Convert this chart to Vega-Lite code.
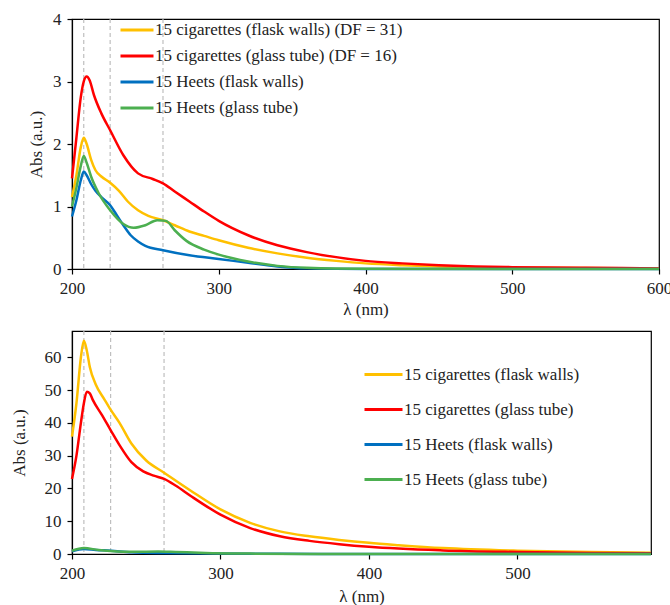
{
  "$schema": "https://vega.github.io/schema/vega-lite/v6.json",
  "padding": {"left": 9, "top": 9, "right": 5, "bottom": 0},
  "bounds": "flush",
  "spacing": 62,
  "datasets": {
    "top": [
      {"s": "15 cigarettes (flask walls) (DF = 31)", "x": 200, "y": 1.15},
      {"s": "15 cigarettes (flask walls) (DF = 31)", "x": 203, "y": 1.5},
      {"s": "15 cigarettes (flask walls) (DF = 31)", "x": 206, "y": 1.95},
      {"s": "15 cigarettes (flask walls) (DF = 31)", "x": 208, "y": 2.1},
      {"s": "15 cigarettes (flask walls) (DF = 31)", "x": 210, "y": 2.0},
      {"s": "15 cigarettes (flask walls) (DF = 31)", "x": 213, "y": 1.75},
      {"s": "15 cigarettes (flask walls) (DF = 31)", "x": 216, "y": 1.58},
      {"s": "15 cigarettes (flask walls) (DF = 31)", "x": 220, "y": 1.48},
      {"s": "15 cigarettes (flask walls) (DF = 31)", "x": 226, "y": 1.38},
      {"s": "15 cigarettes (flask walls) (DF = 31)", "x": 232, "y": 1.25},
      {"s": "15 cigarettes (flask walls) (DF = 31)", "x": 238, "y": 1.08},
      {"s": "15 cigarettes (flask walls) (DF = 31)", "x": 245, "y": 0.94},
      {"s": "15 cigarettes (flask walls) (DF = 31)", "x": 252, "y": 0.85},
      {"s": "15 cigarettes (flask walls) (DF = 31)", "x": 262, "y": 0.78},
      {"s": "15 cigarettes (flask walls) (DF = 31)", "x": 270, "y": 0.7},
      {"s": "15 cigarettes (flask walls) (DF = 31)", "x": 280, "y": 0.6},
      {"s": "15 cigarettes (flask walls) (DF = 31)", "x": 290, "y": 0.53},
      {"s": "15 cigarettes (flask walls) (DF = 31)", "x": 300, "y": 0.46},
      {"s": "15 cigarettes (flask walls) (DF = 31)", "x": 320, "y": 0.34},
      {"s": "15 cigarettes (flask walls) (DF = 31)", "x": 340, "y": 0.25},
      {"s": "15 cigarettes (flask walls) (DF = 31)", "x": 360, "y": 0.18},
      {"s": "15 cigarettes (flask walls) (DF = 31)", "x": 380, "y": 0.13},
      {"s": "15 cigarettes (flask walls) (DF = 31)", "x": 400, "y": 0.09},
      {"s": "15 cigarettes (flask walls) (DF = 31)", "x": 425, "y": 0.06},
      {"s": "15 cigarettes (flask walls) (DF = 31)", "x": 450, "y": 0.04},
      {"s": "15 cigarettes (flask walls) (DF = 31)", "x": 500, "y": 0.02},
      {"s": "15 cigarettes (flask walls) (DF = 31)", "x": 550, "y": 0.015},
      {"s": "15 cigarettes (flask walls) (DF = 31)", "x": 600, "y": 0.01},
      {"s": "15 cigarettes (glass tube) (DF = 16)", "x": 200, "y": 1.45},
      {"s": "15 cigarettes (glass tube) (DF = 16)", "x": 203, "y": 2.1},
      {"s": "15 cigarettes (glass tube) (DF = 16)", "x": 206, "y": 2.75},
      {"s": "15 cigarettes (glass tube) (DF = 16)", "x": 208, "y": 3.0},
      {"s": "15 cigarettes (glass tube) (DF = 16)", "x": 210, "y": 3.08},
      {"s": "15 cigarettes (glass tube) (DF = 16)", "x": 212, "y": 3.02},
      {"s": "15 cigarettes (glass tube) (DF = 16)", "x": 215, "y": 2.78},
      {"s": "15 cigarettes (glass tube) (DF = 16)", "x": 220, "y": 2.49},
      {"s": "15 cigarettes (glass tube) (DF = 16)", "x": 226, "y": 2.22},
      {"s": "15 cigarettes (glass tube) (DF = 16)", "x": 235, "y": 1.82},
      {"s": "15 cigarettes (glass tube) (DF = 16)", "x": 245, "y": 1.53},
      {"s": "15 cigarettes (glass tube) (DF = 16)", "x": 255, "y": 1.44},
      {"s": "15 cigarettes (glass tube) (DF = 16)", "x": 262, "y": 1.37},
      {"s": "15 cigarettes (glass tube) (DF = 16)", "x": 270, "y": 1.24},
      {"s": "15 cigarettes (glass tube) (DF = 16)", "x": 280, "y": 1.08},
      {"s": "15 cigarettes (glass tube) (DF = 16)", "x": 290, "y": 0.92},
      {"s": "15 cigarettes (glass tube) (DF = 16)", "x": 300, "y": 0.77},
      {"s": "15 cigarettes (glass tube) (DF = 16)", "x": 320, "y": 0.54},
      {"s": "15 cigarettes (glass tube) (DF = 16)", "x": 340, "y": 0.38},
      {"s": "15 cigarettes (glass tube) (DF = 16)", "x": 360, "y": 0.27},
      {"s": "15 cigarettes (glass tube) (DF = 16)", "x": 380, "y": 0.19},
      {"s": "15 cigarettes (glass tube) (DF = 16)", "x": 400, "y": 0.13},
      {"s": "15 cigarettes (glass tube) (DF = 16)", "x": 425, "y": 0.09},
      {"s": "15 cigarettes (glass tube) (DF = 16)", "x": 450, "y": 0.06},
      {"s": "15 cigarettes (glass tube) (DF = 16)", "x": 475, "y": 0.04},
      {"s": "15 cigarettes (glass tube) (DF = 16)", "x": 500, "y": 0.03},
      {"s": "15 cigarettes (glass tube) (DF = 16)", "x": 550, "y": 0.02},
      {"s": "15 cigarettes (glass tube) (DF = 16)", "x": 600, "y": 0.01},
      {"s": "15 Heets (flask walls)", "x": 200, "y": 0.84},
      {"s": "15 Heets (flask walls)", "x": 203, "y": 1.1},
      {"s": "15 Heets (flask walls)", "x": 206, "y": 1.42},
      {"s": "15 Heets (flask walls)", "x": 208, "y": 1.56},
      {"s": "15 Heets (flask walls)", "x": 210, "y": 1.5},
      {"s": "15 Heets (flask walls)", "x": 213, "y": 1.36},
      {"s": "15 Heets (flask walls)", "x": 216, "y": 1.25},
      {"s": "15 Heets (flask walls)", "x": 220, "y": 1.15},
      {"s": "15 Heets (flask walls)", "x": 226, "y": 1.02},
      {"s": "15 Heets (flask walls)", "x": 230, "y": 0.88},
      {"s": "15 Heets (flask walls)", "x": 235, "y": 0.7},
      {"s": "15 Heets (flask walls)", "x": 240, "y": 0.54},
      {"s": "15 Heets (flask walls)", "x": 245, "y": 0.44},
      {"s": "15 Heets (flask walls)", "x": 250, "y": 0.37},
      {"s": "15 Heets (flask walls)", "x": 262, "y": 0.3},
      {"s": "15 Heets (flask walls)", "x": 280, "y": 0.22},
      {"s": "15 Heets (flask walls)", "x": 300, "y": 0.16},
      {"s": "15 Heets (flask walls)", "x": 320, "y": 0.1},
      {"s": "15 Heets (flask walls)", "x": 340, "y": 0.04},
      {"s": "15 Heets (flask walls)", "x": 360, "y": 0.01},
      {"s": "15 Heets (flask walls)", "x": 400, "y": 0.0},
      {"s": "15 Heets (flask walls)", "x": 600, "y": 0.0},
      {"s": "15 Heets (glass tube)", "x": 200, "y": 1.0},
      {"s": "15 Heets (glass tube)", "x": 203, "y": 1.3},
      {"s": "15 Heets (glass tube)", "x": 206, "y": 1.65},
      {"s": "15 Heets (glass tube)", "x": 208, "y": 1.81},
      {"s": "15 Heets (glass tube)", "x": 210, "y": 1.7},
      {"s": "15 Heets (glass tube)", "x": 213, "y": 1.48},
      {"s": "15 Heets (glass tube)", "x": 218, "y": 1.22},
      {"s": "15 Heets (glass tube)", "x": 226, "y": 0.94},
      {"s": "15 Heets (glass tube)", "x": 235, "y": 0.72},
      {"s": "15 Heets (glass tube)", "x": 242, "y": 0.66},
      {"s": "15 Heets (glass tube)", "x": 250, "y": 0.7},
      {"s": "15 Heets (glass tube)", "x": 258, "y": 0.78},
      {"s": "15 Heets (glass tube)", "x": 264, "y": 0.77},
      {"s": "15 Heets (glass tube)", "x": 270, "y": 0.62},
      {"s": "15 Heets (glass tube)", "x": 278, "y": 0.45},
      {"s": "15 Heets (glass tube)", "x": 290, "y": 0.31},
      {"s": "15 Heets (glass tube)", "x": 300, "y": 0.23},
      {"s": "15 Heets (glass tube)", "x": 320, "y": 0.12},
      {"s": "15 Heets (glass tube)", "x": 340, "y": 0.05},
      {"s": "15 Heets (glass tube)", "x": 360, "y": 0.02},
      {"s": "15 Heets (glass tube)", "x": 400, "y": 0.005},
      {"s": "15 Heets (glass tube)", "x": 600, "y": 0.0}
    ],
    "bottom": [
      {"s": "15 cigarettes (flask walls)", "x": 200, "y": 35.8},
      {"s": "15 cigarettes (flask walls)", "x": 203, "y": 46},
      {"s": "15 cigarettes (flask walls)", "x": 206, "y": 60},
      {"s": "15 cigarettes (flask walls)", "x": 208, "y": 65},
      {"s": "15 cigarettes (flask walls)", "x": 210, "y": 62},
      {"s": "15 cigarettes (flask walls)", "x": 212, "y": 57},
      {"s": "15 cigarettes (flask walls)", "x": 216, "y": 51.7},
      {"s": "15 cigarettes (flask walls)", "x": 222, "y": 47},
      {"s": "15 cigarettes (flask walls)", "x": 226, "y": 44},
      {"s": "15 cigarettes (flask walls)", "x": 232, "y": 40},
      {"s": "15 cigarettes (flask walls)", "x": 240, "y": 33.7},
      {"s": "15 cigarettes (flask walls)", "x": 250, "y": 28.5},
      {"s": "15 cigarettes (flask walls)", "x": 262, "y": 24.8},
      {"s": "15 cigarettes (flask walls)", "x": 280, "y": 19.3},
      {"s": "15 cigarettes (flask walls)", "x": 300, "y": 13.6},
      {"s": "15 cigarettes (flask walls)", "x": 320, "y": 9.5},
      {"s": "15 cigarettes (flask walls)", "x": 340, "y": 6.9},
      {"s": "15 cigarettes (flask walls)", "x": 360, "y": 5.4},
      {"s": "15 cigarettes (flask walls)", "x": 380, "y": 4.3},
      {"s": "15 cigarettes (flask walls)", "x": 400, "y": 3.4},
      {"s": "15 cigarettes (flask walls)", "x": 420, "y": 2.7},
      {"s": "15 cigarettes (flask walls)", "x": 450, "y": 1.8},
      {"s": "15 cigarettes (flask walls)", "x": 500, "y": 1.0},
      {"s": "15 cigarettes (flask walls)", "x": 550, "y": 0.6},
      {"s": "15 cigarettes (flask walls)", "x": 590, "y": 0.4},
      {"s": "15 cigarettes (glass tube)", "x": 200, "y": 22.9},
      {"s": "15 cigarettes (glass tube)", "x": 203, "y": 30},
      {"s": "15 cigarettes (glass tube)", "x": 206, "y": 40},
      {"s": "15 cigarettes (glass tube)", "x": 208, "y": 46},
      {"s": "15 cigarettes (glass tube)", "x": 210, "y": 49.5},
      {"s": "15 cigarettes (glass tube)", "x": 212, "y": 49},
      {"s": "15 cigarettes (glass tube)", "x": 214, "y": 47},
      {"s": "15 cigarettes (glass tube)", "x": 220, "y": 42.5},
      {"s": "15 cigarettes (glass tube)", "x": 226, "y": 37.8},
      {"s": "15 cigarettes (glass tube)", "x": 232, "y": 33.2},
      {"s": "15 cigarettes (glass tube)", "x": 240, "y": 28},
      {"s": "15 cigarettes (glass tube)", "x": 248, "y": 25.2},
      {"s": "15 cigarettes (glass tube)", "x": 255, "y": 23.9},
      {"s": "15 cigarettes (glass tube)", "x": 262, "y": 22.9},
      {"s": "15 cigarettes (glass tube)", "x": 270, "y": 20.8},
      {"s": "15 cigarettes (glass tube)", "x": 280, "y": 17.7},
      {"s": "15 cigarettes (glass tube)", "x": 300, "y": 12},
      {"s": "15 cigarettes (glass tube)", "x": 320, "y": 7.9},
      {"s": "15 cigarettes (glass tube)", "x": 340, "y": 5.4},
      {"s": "15 cigarettes (glass tube)", "x": 360, "y": 4.0},
      {"s": "15 cigarettes (glass tube)", "x": 380, "y": 3.0},
      {"s": "15 cigarettes (glass tube)", "x": 400, "y": 2.2},
      {"s": "15 cigarettes (glass tube)", "x": 450, "y": 1.1},
      {"s": "15 cigarettes (glass tube)", "x": 500, "y": 0.6},
      {"s": "15 cigarettes (glass tube)", "x": 550, "y": 0.3},
      {"s": "15 cigarettes (glass tube)", "x": 590, "y": 0.2},
      {"s": "15 Heets (flask walls)", "x": 200, "y": 0.84},
      {"s": "15 Heets (flask walls)", "x": 208, "y": 1.56},
      {"s": "15 Heets (flask walls)", "x": 216, "y": 1.25},
      {"s": "15 Heets (flask walls)", "x": 226, "y": 1.02},
      {"s": "15 Heets (flask walls)", "x": 240, "y": 0.54},
      {"s": "15 Heets (flask walls)", "x": 262, "y": 0.3},
      {"s": "15 Heets (flask walls)", "x": 300, "y": 0.16},
      {"s": "15 Heets (flask walls)", "x": 340, "y": 0.04},
      {"s": "15 Heets (flask walls)", "x": 400, "y": 0.0},
      {"s": "15 Heets (flask walls)", "x": 590, "y": 0.0},
      {"s": "15 Heets (glass tube)", "x": 200, "y": 1.0},
      {"s": "15 Heets (glass tube)", "x": 208, "y": 1.81},
      {"s": "15 Heets (glass tube)", "x": 218, "y": 1.22},
      {"s": "15 Heets (glass tube)", "x": 226, "y": 0.94},
      {"s": "15 Heets (glass tube)", "x": 242, "y": 0.66},
      {"s": "15 Heets (glass tube)", "x": 258, "y": 0.78},
      {"s": "15 Heets (glass tube)", "x": 270, "y": 0.62},
      {"s": "15 Heets (glass tube)", "x": 290, "y": 0.31},
      {"s": "15 Heets (glass tube)", "x": 320, "y": 0.12},
      {"s": "15 Heets (glass tube)", "x": 360, "y": 0.02},
      {"s": "15 Heets (glass tube)", "x": 590, "y": 0.0}
    ],
    "marks": [{"x": 208}, {"x": 226}, {"x": 262}]
  },
  "vconcat": [
    {
      "width": 587,
      "height": 250,
      "view": {"stroke": "#000000", "strokeWidth": 1.2},
      "layer": [
        {
          "data": {"name": "marks"},
          "mark": {"type": "rule", "color": "#BFBFBF", "strokeWidth": 1.2, "strokeDash": [4, 3]},
          "encoding": {
            "x": {"field": "x", "type": "quantitative", "scale": {"domain": [200, 600], "nice": false}}
          }
        },
        {
          "data": {"name": "top"},
          "mark": {"type": "line", "interpolate": "monotone", "strokeWidth": 2.5},
          "encoding": {
            "x": {"field": "x", "type": "quantitative", "scale": {"domain": [200, 600], "nice": false},
              "axis": {"title": "λ (nm)", "values": [200, 300, 400, 500, 600], "titlePadding": 5, "grid": false,
                "domainColor": "#000000", "domainWidth": 1.2, "tickColor": "#000000", "tickSize": 5, "tickWidth": 1.2,
                "labelPadding": 6, "labelColor": "#222222", "titleColor": "#222222",
                "labelFont": "Liberation Serif", "titleFont": "Liberation Serif", "labelFontSize": 17, "titleFontSize": 17, "titleFontWeight": "normal", "labelFlush": false}},
            "y": {"field": "y", "type": "quantitative", "scale": {"domain": [0, 4], "nice": false},
              "axis": {"title": "Abs (a.u.)", "values": [0, 1, 2, 3, 4], "titlePadding": 7, "grid": false,
                "domainColor": "#000000", "domainWidth": 1.2, "tickColor": "#000000", "tickSize": 5, "tickWidth": 1.2,
                "labelPadding": 6, "labelColor": "#222222", "titleColor": "#222222",
                "labelFont": "Liberation Serif", "titleFont": "Liberation Serif", "labelFontSize": 17, "titleFontSize": 17, "titleFontWeight": "normal"}},
            "color": {"field": "s", "type": "nominal", "sort": null,
              "scale": {"domain": ["15 cigarettes (flask walls) (DF = 31)", "15 cigarettes (glass tube) (DF = 16)", "15 Heets (flask walls)", "15 Heets (glass tube)"],
                "range": ["#FFC000", "#FF0000", "#0070C0", "#4CAF50"]},
              "legend": {"title": null, "orient": "none", "legendX": 47, "legendY": -7, "symbolSize": 1089, "rowPadding": 0,
                "labelFont": "Liberation Serif", "labelFontSize": 17, "symbolType": "stroke", "symbolStrokeWidth": 3, "labelOffset": 0, "padding": 0, "labelLimit": 400, "labelColor": "#222222"}}
          }
        }
      ]
    },
    {
      "width": 579,
      "height": 223,
      "view": {"stroke": "#000000", "strokeWidth": 1.2},
      "layer": [
        {
          "data": {"name": "marks"},
          "mark": {"type": "rule", "color": "#BFBFBF", "strokeWidth": 1.2, "strokeDash": [4, 3]},
          "encoding": {
            "x": {"field": "x", "type": "quantitative", "scale": {"domain": [200, 590], "nice": false}}
          }
        },
        {
          "data": {"name": "bottom"},
          "mark": {"type": "line", "interpolate": "monotone", "strokeWidth": 2.5},
          "encoding": {
            "x": {"field": "x", "type": "quantitative", "scale": {"domain": [200, 590], "nice": false},
              "axis": {"title": "λ (nm)", "values": [200, 300, 400, 500], "titlePadding": 7, "grid": false,
                "domainColor": "#000000", "domainWidth": 1.2, "tickColor": "#000000", "tickSize": 5, "tickWidth": 1.2,
                "labelPadding": 6, "labelColor": "#222222", "titleColor": "#222222",
                "labelFont": "Liberation Serif", "titleFont": "Liberation Serif", "labelFontSize": 17, "titleFontSize": 17, "titleFontWeight": "normal", "labelFlush": false}},
            "y": {"field": "y", "type": "quantitative", "scale": {"domain": [0, 68], "nice": false},
              "axis": {"title": "Abs (a.u.)", "values": [0, 10, 20, 30, 40, 50, 60], "titlePadding": 16, "grid": false,
                "domainColor": "#000000", "domainWidth": 1.2, "tickColor": "#000000", "tickSize": 5, "tickWidth": 1.2,
                "labelPadding": 6, "labelColor": "#222222", "titleColor": "#222222",
                "labelFont": "Liberation Serif", "titleFont": "Liberation Serif", "labelFontSize": 17, "titleFontSize": 17, "titleFontWeight": "normal"}},
            "color": {"field": "s", "type": "nominal", "sort": null,
              "scale": {"domain": ["15 cigarettes (flask walls)", "15 cigarettes (glass tube)", "15 Heets (flask walls)", "15 Heets (glass tube)"],
                "range": ["#FFC000", "#FF0000", "#0070C0", "#4CAF50"]},
              "legend": {"title": null, "orient": "none", "legendX": 291, "legendY": 23, "symbolSize": 1444, "rowPadding": 6,
                "labelFont": "Liberation Serif", "labelFontSize": 17, "symbolType": "stroke", "symbolStrokeWidth": 3, "labelOffset": 0, "padding": 0, "labelLimit": 400, "labelColor": "#222222"}}
          }
        }
      ]
    }
  ],
  "resolve": {"scale": {"color": "independent", "x": "independent", "y": "independent"}, "legend": {"color": "independent"}}
}
